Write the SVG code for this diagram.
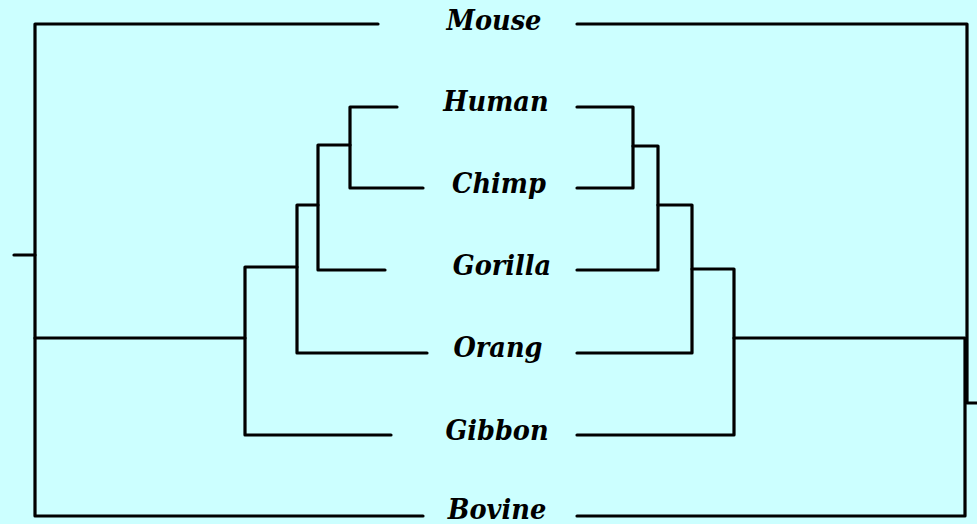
<svg xmlns="http://www.w3.org/2000/svg" width="977" height="524" viewBox="0 0 977 524">
  <style>
    .bg { fill: #ccffff; }
    .edge { fill: none; stroke: #000; stroke-width: 3.2; stroke-linecap: round; stroke-linejoin: round; }
    .taxon { font-family: "DejaVu Serif Condensed", "DejaVu Serif", "Liberation Serif", serif; font-weight: bold; font-style: italic; font-size: 28.5px; fill: #000; text-anchor: middle; }
  </style>
  <rect class="bg" x="0" y="0" width="977" height="524"/>

  <!-- taxon labels -->
  <g id="mouse"><text class="taxon" x="494" y="30">Mouse</text></g>
  <g id="human"><text class="taxon" x="496" y="111">Human</text></g>
  <g id="chimp"><text class="taxon" x="499" y="193">Chimp</text></g>
  <g id="gorilla"><text class="taxon" x="502" y="275">Gorilla</text></g>
  <g id="orang"><text class="taxon" x="498" y="357">Orang</text></g>
  <g id="gibbon"><text class="taxon" x="497" y="440">Gibbon</text></g>
  <g id="bovine"><text class="taxon" x="497" y="519">Bovine</text></g>

  <g id="connectors">
    <!-- left tree -->
    <path class="edge" d="M14 255 H35"/>
    <path class="edge" d="M378 24 H35 V516 H423"/>
    <path class="edge" d="M35 338 H245"/>
    <path class="edge" d="M391 435 H245 V267 H297"/>
    <path class="edge" d="M427 353 H297 V205 H318"/>
    <path class="edge" d="M385 270 H318 V145 H350"/>
    <path class="edge" d="M397 107 H350 V188 H423"/>

    <!-- right tree -->
    <path class="edge" d="M577 24 H967 V403 H977"/>
    <path class="edge" d="M577 516 H965 V338 H734"/>
    <path class="edge" d="M577 107 H633 V188 H577"/>
    <path class="edge" d="M633 146 H658 V270 H577"/>
    <path class="edge" d="M658 205 H692 V353 H577"/>
    <path class="edge" d="M692 269 H734 V435 H577"/>
  </g>
</svg>
